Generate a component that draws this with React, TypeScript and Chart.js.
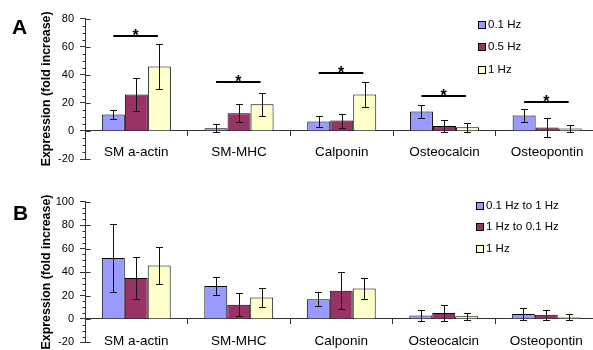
import React, { useEffect, useRef } from 'react';
import { Chart, registerables } from 'chart.js';

Chart.register(...registerables);

const FONT = '"Liberation Sans", Arial, Helvetica, sans-serif';

// ---------- data ----------
const categories = ['SM a-actin', 'SM-MHC', 'Calponin', 'Osteocalcin', 'Osteopontin'];

// Panel A
const seriesALabels = ['0.1 Hz', '0.5 Hz', '1 Hz'];
const a01Hz = [11.7, 2, 6.7, 13.8, 11];
const a01HzErr = [3, 2.8, 3.7, 4.5, 4.3];
const a05Hz = [26, 12.6, 7.4, 3.6, 2.4];
const a05HzErr = [12, 6.5, 5, 4.3, 6.5];
const a1Hz = [46, 19, 26, 2.6, 1.7];
const a1HzErr = [16, 8, 9, 3, 2.2];
const aSignificance = [67.6, 35, 41.4, 24.8, 20.3];
const aYMin = -20;
const aYMax = 80;

// Panel B
const seriesBLabels = ['0.1 Hz to 1 Hz', '1 Hz to 0.1 Hz', '1 Hz'];
const b01to1 = [52, 28.2, 16.8, 3, 4.2];
const b01to1Err = [28.7, 8, 5.8, 4.5, 5.2];
const b1to01 = [35, 12.1, 24, 5, 3.5];
const b1to01Err = [18, 10, 15.7, 7, 4];
const b1Hz = [45.6, 18.3, 26, 2.4, 1.3];
const b1HzErr = [15.8, 8, 9, 3, 2.5];
const bYMin = -20;
const bYMax = 100;

const yStep = 20;
const yMinorStep = 5;
const yTitle = 'Expression (fold increase)';

const colors = ['#9999FF', '#993366', '#FFFFCC'];

type PanelProps = {
  letter: string;
  labels: string[];
  values: number[][];
  errors: number[][];
  sig?: number[];
  yMin: number;
  yMax: number;
  width: number;
  height: number;
  top: number;
  padding: { top: number; bottom: number; right: number };
  labelPad: number;
  legend: { x: number; y: number; gap: number };
  letterPos: { x: number; y: number };
};

function Panel(p: PanelProps) {
  const ref = useRef<HTMLCanvasElement>(null);
  useEffect(() => {
    const canvas = ref.current!;
    const overlay = {
      id: 'overlay',
      afterDatasetsDraw(chart: any) {
        const ctx = chart.ctx;
        const ys = chart.scales.y;
        ctx.save();
        ctx.strokeStyle = '#111';
        ctx.lineWidth = 1;
        p.errors.forEach((errs, i) => {
          const meta = chart.getDatasetMeta(i);
          meta.data.forEach((el: any, j: number) => {
            const v = p.values[i][j];
            const e = errs[j];
            const x = Math.round(el.x) + 0.5;
            const t = Math.round(ys.getPixelForValue(v + e)) + 0.5;
            const b = Math.round(ys.getPixelForValue(v - e)) + 0.5;
            ctx.beginPath();
            ctx.moveTo(x, t);
            ctx.lineTo(x, b);
            ctx.moveTo(x - 3.5, t);
            ctx.lineTo(x + 3.5, t);
            ctx.moveTo(x - 3.5, b);
            ctx.lineTo(x + 3.5, b);
            ctx.stroke();
          });
        });
        ctx.restore();
      },
      afterDraw(chart: any) {
        const ctx = chart.ctx;
        const ys = chart.scales.y;
        const area = chart.chartArea;
        ctx.save();
        // y-axis ticks: majors cross axis, minors outside
        ctx.strokeStyle = '#333';
        ctx.lineWidth = 1;
        const ax = Math.round(area.left) + 0.5;
        for (let v = p.yMin; v <= p.yMax; v += yMinorStep) {
          const yy = Math.round(ys.getPixelForValue(v)) + 0.5;
          ctx.beginPath();
          if (v % yStep === 0) {
            ctx.moveTo(ax, yy);
            ctx.lineTo(ax + 5, yy);
          } else {
            ctx.moveTo(ax - 3, yy);
            ctx.lineTo(ax, yy);
          }
          ctx.stroke();
        }
        // significance bars
        if (p.sig) {
          const m0 = chart.getDatasetMeta(0);
          const m2 = chart.getDatasetMeta(2);
          ctx.strokeStyle = '#000';
          ctx.fillStyle = '#000';
          ctx.lineWidth = 2;
          ctx.font = `bold 16px ${FONT}`;
          ctx.textAlign = 'center';
          ctx.textBaseline = 'alphabetic';
          p.sig.forEach((s, j) => {
            const x0 = m0.data[j].x;
            const x1 = m2.data[j].x - 1.5;
            const yy = Math.round(ys.getPixelForValue(s));
            ctx.beginPath();
            ctx.moveTo(x0, yy);
            ctx.lineTo(x1, yy);
            ctx.stroke();
            ctx.fillText('*', (x0 + x1) / 2, yy + 4.5);
          });
        }
        // legend
        ctx.font = `11.5px ${FONT}`;
        ctx.textAlign = 'left';
        ctx.textBaseline = 'middle';
        ctx.lineWidth = 1;
        chart.data.datasets.forEach((ds: any, i: number) => {
          const cy = p.legend.y + i * p.legend.gap;
          const sx = Math.round(p.legend.x) + 0.5;
          const sy = Math.round(cy - 3.5) + 0.5;
          ctx.fillStyle = ds.backgroundColor;
          ctx.fillRect(sx, sy, 7, 7);
          ctx.strokeStyle = '#000';
          ctx.strokeRect(sx, sy, 7, 7);
          ctx.fillStyle = '#000';
          ctx.fillText(ds.label, p.legend.x + 10.5, cy + 0.5);
        });
        // panel letter
        ctx.font = `bold 21px ${FONT}`;
        ctx.textBaseline = 'middle';
        ctx.fillText(p.letter, p.letterPos.x, p.letterPos.y);
        // y title
        ctx.translate(47, (area.top + area.bottom) / 2);
        ctx.rotate(-Math.PI / 2);
        ctx.font = `bold 12.4px ${FONT}`;
        ctx.textAlign = 'center';
        ctx.textBaseline = 'middle';
        ctx.fillText(yTitle, 0, 0);
        ctx.restore();
      },
    };

    const chart = new Chart(canvas, {
      type: 'bar',
      data: {
        labels: categories,
        datasets: p.values.map((vals, i) => ({
          label: p.labels[i],
          data: vals,
          backgroundColor: colors[i],
          borderColor: '#000',
          borderWidth: 1,
          categoryPercentage: 0.672,
          barPercentage: 1,
        })),
      },
      options: {
        responsive: false,
        animation: false,
        devicePixelRatio: 1,
        layout: { padding: { left: 0, top: p.padding.top, bottom: p.padding.bottom, right: p.padding.right } },
        plugins: { legend: { display: false }, tooltip: { enabled: false } },
        scales: {
          x: {
            type: 'category',
            position: { y: 0 } as any,
            offset: true,
            afterFit: (s: any) => {
              s.height = 0;
            },
            grid: { display: true, drawOnChartArea: false, drawTicks: true, tickLength: 5, color: '#333', offset: true },
            border: { display: true, color: '#333', width: 1 },
            ticks: { color: '#000', font: { family: FONT, size: 13.5 }, padding: p.labelPad, maxRotation: 0, autoSkip: false },
          },
          y: {
            min: p.yMin,
            max: p.yMax,
            afterFit: (s: any) => {
              s.width = 85;
            },
            grid: { display: true, drawOnChartArea: false, drawTicks: true, tickLength: 5, color: '#333' },
            border: { display: true, color: '#333', width: 1 },
            ticks: { stepSize: yStep, color: '#000', font: { family: FONT, size: 11 }, padding: 6 },
          },
        },
      },
      plugins: [overlay],
    });
    return () => chart.destroy();
  }, []);
  return (
    <canvas
      ref={ref}
      width={p.width}
      height={p.height}
      style={{ position: 'absolute', left: 0, top: p.top, width: p.width, height: p.height }}
    />
  );
}

export default function App() {
  return (
    <div style={{ position: 'fixed', left: 0, top: 0, width: 593, height: 350, overflow: 'hidden', background: '#fff' }}>
      <Panel
        letter="A"
        labels={seriesALabels}
        values={[a01Hz, a05Hz, a1Hz]}
        errors={[a01HzErr, a05HzErr, a1HzErr]}
        sig={aSignificance}
        yMin={aYMin}
        yMax={aYMax}
        width={620}
        height={175}
        top={0}
        padding={{ top: 18.7, bottom: 16, right: 21.5 }}
        labelPad={8}
        legend={{ x: 477.5, y: 24, gap: 22.8 }}
        letterPos={{ x: 12, y: 28.5 }}
      />
      <Panel
        letter="B"
        labels={seriesBLabels}
        values={[b01to1, b1to01, b1Hz]}
        errors={[b01to1Err, b1to01Err, b1HzErr]}
        yMin={bYMin}
        yMax={bYMax}
        width={620}
        height={180}
        top={175}
        padding={{ top: 26.7, bottom: 8.6, right: 22.5 }}
        labelPad={9}
        legend={{ x: 475.5, y: 30, gap: 21.7 }}
        letterPos={{ x: 13, y: 39 }}
      />
    </div>
  );
}
